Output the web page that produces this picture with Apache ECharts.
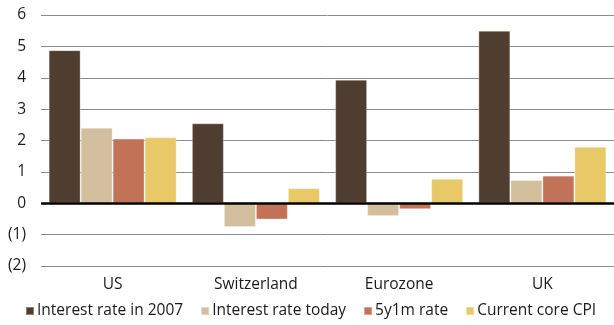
<!DOCTYPE html>
<html>
<head>
<meta charset="utf-8">
<script src="https://cdn.jsdelivr.net/npm/echarts@6/dist/echarts.min.js"></script>
<style>
  html, body { margin: 0; padding: 0; background: #fff; }
  #chart { width: 614px; height: 325px; }
</style>
</head>
<body>
<div id="chart"></div>
<script>
// Policy rates vs. inflation by economy (%)
const categories = ['US', 'Switzerland', 'Eurozone', 'UK'];
const seriesNames = ['Interest rate in 2007', 'Interest rate today', '5y1m rate', 'Current core CPI'];
const rate2007   = [4.88, 2.55, 3.94, 5.50];
const rateToday  = [2.41, -0.76, -0.41, 0.74];
const rate5y1m   = [2.06, -0.52, -0.19, 0.88];
const coreCpi    = [2.10, 0.48, 0.78, 1.80];
const yTicks = [-2, -1, 0, 1, 2, 3, 4, 5, 6];
const colors = ['#4f3d30', '#d3bf9d', '#c27257', '#e9c868'];

const fmtTick = v => (v < 0 ? '(' + Math.abs(v) + ')' : String(v));
const FONT = 'Open Sans';
const FS = 15.5;

const values = [rate2007, rateToday, rate5y1m, coreCpi];
const series = values.map((vals, i) => {
  const s = {
    name: seriesNames[i],
    type: 'bar',
    data: vals,
    barWidth: 32,
    barGap: '0%',
    itemStyle: { color: colors[i], borderColor: 'rgba(255,255,255,0.35)', borderWidth: 1 },
    emphasis: { disabled: true }
  };
  if (i === 0) {
    // heavy baseline at zero
    s.markLine = {
      silent: true,
      symbol: 'none',
      label: { show: false },
      lineStyle: { color: '#000', width: 2.5, type: 'solid' },
      data: [{ yAxis: 0 }],
      z: 10
    };
  }
  return s;
});

const chart = echarts.init(document.getElementById('chart'), null, { renderer: 'canvas' });
chart.setOption({
  animation: false,
  color: colors,
  textStyle: { fontFamily: FONT },
  grid: { left: 41, right: 0, top: 15, bottom: 59 },
  legend: {
    data: seriesNames,
    left: 20,
    top: 298,
    icon: 'rect',
    itemWidth: 8,
    itemHeight: 8,
    itemGap: 17,
    selectedMode: false,
    textStyle: { fontFamily: FONT, fontSize: FS, color: '#1a1a1a', padding: [0, 0, 0, -2] }
  },
  xAxis: {
    type: 'category',
    data: categories,
    axisLine: { show: false },
    axisTick: { show: false },
    axisLabel: { fontFamily: FONT, fontSize: FS, color: '#1a1a1a', margin: 11 },
    splitLine: { show: false }
  },
  yAxis: {
    type: 'value',
    min: yTicks[0],
    max: yTicks[yTicks.length - 1],
    interval: 1,
    axisLine: { show: false },
    axisTick: { show: false },
    axisLabel: { fontFamily: FONT, fontSize: FS, color: '#1a1a1a', margin: 15, formatter: fmtTick },
    splitLine: { lineStyle: { color: '#8c8c8c', width: 1 } }
  },
  series: series
});
</script>
</body>
</html>
